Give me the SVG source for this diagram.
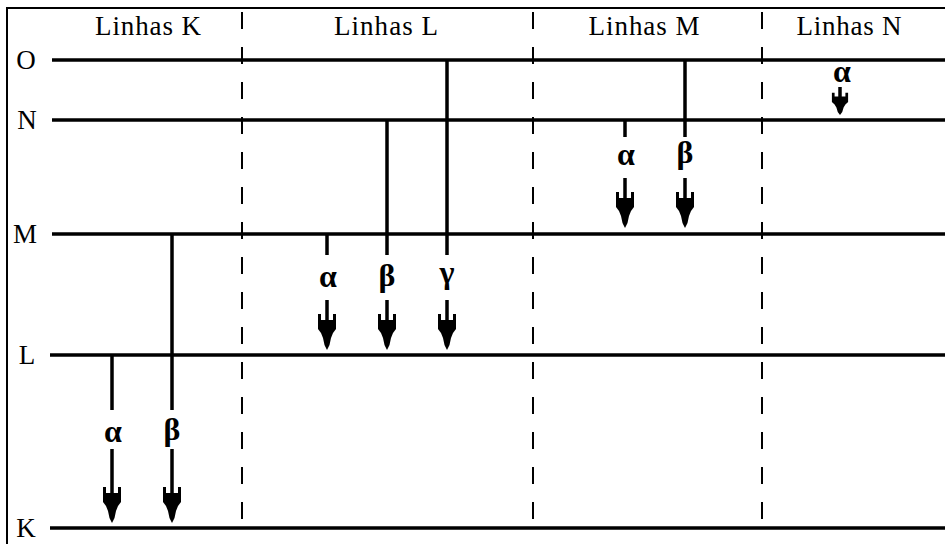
<svg xmlns="http://www.w3.org/2000/svg" xmlns:xlink="http://www.w3.org/1999/xlink" width="945" height="544" viewBox="0 0 945 544">
  <style>
    .frame { fill: none; stroke: #000; stroke-width: 2; }
    .level { stroke: #000; stroke-width: 3.5; }
    .sep { stroke: #000; stroke-width: 2; stroke-dasharray: 17 18; }
    .tr { stroke: #000; stroke-width: 3.5; fill: none; }
    .head { fill: #000; }
    .lbl { font-family: "Liberation Serif", "Times New Roman", serif; font-size: 27px; fill: #000; text-anchor: middle; }
    .gk { font-family: "Liberation Serif", "Times New Roman", serif; font-size: 32px; font-weight: bold; fill: #000; text-anchor: middle; }
  </style>
  <defs>
    <!-- notched arrowhead, tip at the origin -->
    <path id="head" class="head" d="M-9,-36 H-6 V-30 H6 V-36 H9 V-21 L6,-17 L4,-12 L2.5,-5 L0,0 L-2.5,-5 L-4,-12 L-6,-17 L-9,-21 Z"/>
  </defs>

  <rect width="945" height="544" fill="#fff"/>
  <rect class="frame" x="7" y="8" width="960" height="560"/>

  <!-- column headers and separators -->
  <g id="columns">
    <text class="lbl" x="148" y="35" textLength="106" lengthAdjust="spacing">Linhas K</text>
    <text class="lbl" x="386" y="35" textLength="104" lengthAdjust="spacing">Linhas L</text>
    <text class="lbl" x="644" y="35" textLength="111" lengthAdjust="spacing">Linhas M</text>
    <text class="lbl" x="849" y="35" textLength="105" lengthAdjust="spacing">Linhas N</text>
    <line class="sep" x1="242" y1="12" x2="242" y2="520"/>
    <line class="sep" x1="533" y1="12" x2="533" y2="520"/>
    <line class="sep" x1="762" y1="12" x2="762" y2="520"/>
  </g>

  <!-- energy levels -->
  <g id="level-O">
    <text class="lbl" x="26" y="69">O</text>
    <line class="level" x1="52" y1="60" x2="945" y2="60"/>
  </g>
  <g id="level-N">
    <text class="lbl" x="27" y="129">N</text>
    <line class="level" x1="52" y1="120" x2="945" y2="120"/>
  </g>
  <g id="level-M">
    <text class="lbl" x="25" y="243">M</text>
    <line class="level" x1="52" y1="234" x2="945" y2="234"/>
  </g>
  <g id="level-L">
    <text class="lbl" x="27" y="364">L</text>
    <line class="level" x1="50" y1="355" x2="945" y2="355"/>
  </g>
  <g id="level-K">
    <text class="lbl" x="26" y="537">K</text>
    <line class="level" x1="50" y1="528" x2="945" y2="528"/>
  </g>

  <!-- transitions -->
  <g id="connectors">
    <!-- K series -->
    <line class="tr" x1="112" y1="355" x2="112" y2="410"/>
    <text class="gk" x="113" y="442">α</text>
    <line class="tr" x1="112" y1="449" x2="112" y2="494"/>
    <use xlink:href="#head" href="#head" x="112" y="523"/>

    <line class="tr" x1="172" y1="234" x2="172" y2="410"/>
    <text class="gk" x="172" y="440">β</text>
    <line class="tr" x1="172" y1="449" x2="172" y2="494"/>
    <use xlink:href="#head" href="#head" x="172" y="523"/>

    <!-- L series -->
    <line class="tr" x1="327" y1="234" x2="327" y2="255"/>
    <text class="gk" x="328" y="287">α</text>
    <line class="tr" x1="327" y1="300" x2="327" y2="321"/>
    <use xlink:href="#head" href="#head" x="327" y="350"/>

    <line class="tr" x1="387" y1="120" x2="387" y2="255"/>
    <text class="gk" x="387" y="286">β</text>
    <line class="tr" x1="387" y1="300" x2="387" y2="321"/>
    <use xlink:href="#head" href="#head" x="387" y="350"/>

    <line class="tr" x1="447" y1="60" x2="447" y2="255"/>
    <text class="gk" x="447" y="283">γ</text>
    <line class="tr" x1="447" y1="300" x2="447" y2="321"/>
    <use xlink:href="#head" href="#head" x="447" y="350"/>

    <!-- M series -->
    <line class="tr" x1="625" y1="120" x2="625" y2="137"/>
    <text class="gk" x="626" y="165">α</text>
    <line class="tr" x1="625" y1="178" x2="625" y2="199"/>
    <use xlink:href="#head" href="#head" x="625" y="228"/>

    <line class="tr" x1="685" y1="60" x2="685" y2="137"/>
    <text class="gk" x="685" y="163">β</text>
    <line class="tr" x1="685" y1="178" x2="685" y2="199"/>
    <use xlink:href="#head" href="#head" x="685" y="228"/>

    <!-- N series -->
    <text class="gk" x="842" y="82">α</text>
    <line class="tr" x1="840" y1="87" x2="840" y2="97"/>
    <use xlink:href="#head" href="#head" transform="translate(840,115) scale(0.9,0.62)"/>
  </g>
</svg>
